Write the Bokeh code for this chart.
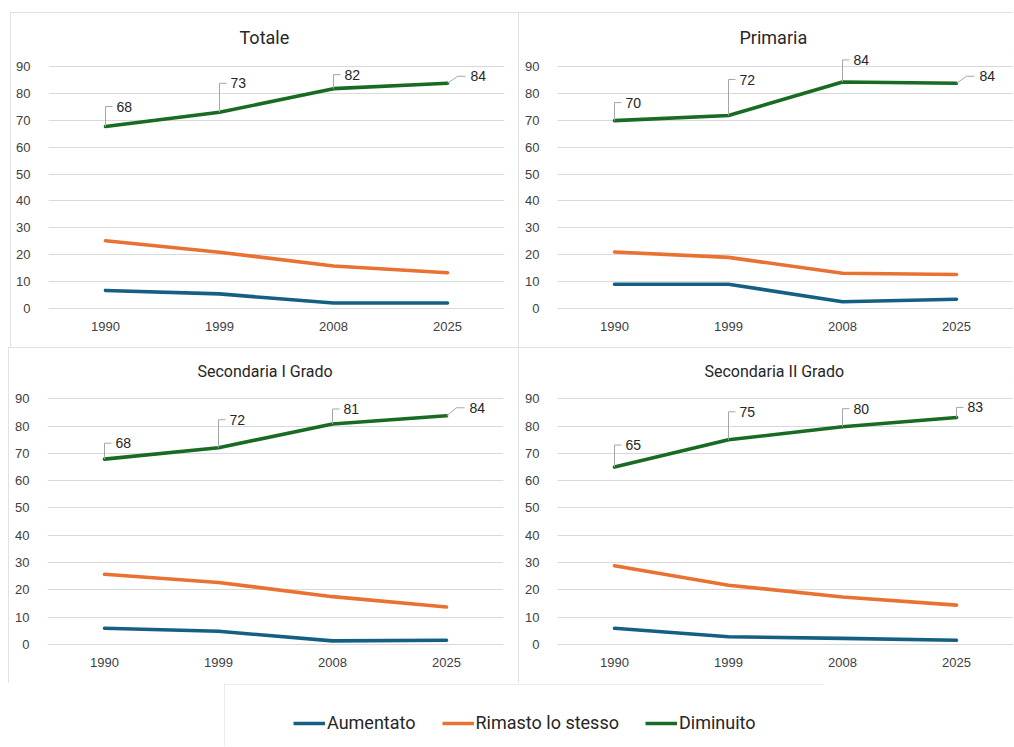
from bokeh.plotting import figure
from bokeh.models import Range1d, FixedTicker, ColumnDataSource, Legend, LegendItem, Spacer
from bokeh.layouts import column, row
from bokeh.core.properties import value
from bokeh.embed import file_html
from bokeh.resources import INLINE

# ---------------- data ----------------
years = ["1990", "1999", "2008", "2025"]
series = ["Aumentato", "Rimasto lo stesso", "Diminuito"]
panels = ["Totale", "Primaria", "Secondaria I Grado", "Secondaria II Grado"]
y_ticks = [0, 10, 20, 30, 40, 50, 60, 70, 80, 90]

totale_aumentato = [6.7, 5.4, 2.0, 2.0]
totale_rimasto = [25.2, 20.9, 15.8, 13.3]
totale_diminuito = [67.7, 73.0, 81.8, 83.8]

primaria_aumentato = [9.0, 9.0, 2.5, 3.4]
primaria_rimasto = [21.0, 19.0, 13.1, 12.6]
primaria_diminuito = [69.9, 71.8, 84.3, 83.8]

sec1_aumentato = [5.9, 4.8, 1.3, 1.5]
sec1_rimasto = [25.7, 22.7, 17.5, 13.7]
sec1_diminuito = [67.9, 72.1, 80.8, 83.8]

sec2_aumentato = [5.9, 2.8, 2.2, 1.5]
sec2_rimasto = [28.8, 21.7, 17.4, 14.4]
sec2_diminuito = [65.0, 75.0, 79.8, 83.2]

panel_data = {
    "Totale": [totale_aumentato, totale_rimasto, totale_diminuito],
    "Primaria": [primaria_aumentato, primaria_rimasto, primaria_diminuito],
    "Secondaria I Grado": [sec1_aumentato, sec1_rimasto, sec1_diminuito],
    "Secondaria II Grado": [sec2_aumentato, sec2_rimasto, sec2_diminuito],
}

# ---------------- style ----------------
colors = ["#156082", "#E97132", "#196B24"]
BAND = 114.0
Y0, Y1 = -0.4, 96.0
FONT_NUM = "Liberation Sans"
FONT_TXT = "Roboto"
LW = 3.6

# canvas size, min borders, title size / left offset from frame / standoff
geom = {
    "Totale": dict(w=508, h=335, ml=38, mr=14, mt=38, mb=38, tsize="18px", toff=191, tst=6),
    "Primaria": dict(w=495, h=335, ml=39, mr=0, mt=38, mb=38, tsize="18px", toff=182, tst=6),
    "Secondaria I Grado": dict(w=510, h=336, ml=39, mr=15, mt=35, mb=38, tsize="16px", toff=150, tst=4),
    "Secondaria II Grado": dict(w=495, h=336, ml=39, mr=0, mt=35, mb=38, tsize="16px", toff=147, tst=4),
}
# leader line heights (px) for data labels of the last series; "d" = diagonal leader
leaders = {
    "Totale": [20, 29, 14, "d7"],
    "Primaria": [18, 36, 22, "d7"],
    "Secondaria I Grado": [16, 28, 15, "d8"],
    "Secondaria II Grado": [22, 28, 18, 10],
}
border_style = {"outline": "1px solid #d9d9d9", "outline-offset": "-1px"}


def make_panel(name):
    g = geom[name]
    fw = g["w"] - g["ml"] - g["mr"]
    fh = g["h"] - g["mt"] - g["mb"]
    x_end = 0.5 + fw / BAND
    p = figure(width=g["w"], height=g["h"], x_range=Range1d(0.5, x_end),
               y_range=Range1d(Y0, Y1), output_backend="svg", toolbar_location=None,
               min_border_left=g["ml"], min_border_right=g["mr"],
               min_border_top=g["mt"], min_border_bottom=g["mb"],
               styles=border_style)
    p.outline_line_color = None
    p.background_fill_color = "white"
    p.border_fill_color = "white"

    xs = [i + 1 for i in range(len(years))]
    for vals, c in zip(panel_data[name], colors):
        src = ColumnDataSource(data=dict(x=xs, y=vals))
        p.line("x", "y", source=src, line_color=c, line_width=LW,
               line_join="round", line_cap="round")

    # data labels with leader lines on the "Diminuito" series
    ux = 1.0 / BAND
    uy = (Y1 - Y0) / fh
    vals = panel_data[name][2]
    lxs, lys, tx, ty, tt = [], [], [], [], []
    for x, v, ld in zip(xs, vals, leaders[name]):
        if isinstance(ld, str):
            dy = float(ld[1:])
            lxs.append([x, x + 10 * ux, x + 18 * ux])
            lys.append([v, v + dy * uy, v + dy * uy])
            tx.append(x + 23 * ux)
            ty.append(v + dy * uy)
        else:
            lxs.append([x, x, x + 7 * ux])
            lys.append([v, v + ld * uy, v + ld * uy])
            tx.append(x + 11 * ux)
            ty.append(v + ld * uy)
        tt.append(str(int(round(v))))
    p.multi_line(xs=lxs, ys=lys, line_color="#a6a6a6", line_width=1)
    p.text(x=tx, y=ty, text=tt, text_font=value(FONT_NUM), text_font_size="14px",
           text_baseline="middle", text_align="left", text_color="#262626")

    p.title.text = name
    p.title.align = "left"
    p.title.offset = g["toff"]
    p.title.standoff = g["tst"]
    p.title.text_font = FONT_TXT
    p.title.text_font_size = g["tsize"]
    p.title.text_font_style = "normal"
    p.title.text_color = "#262626"

    p.xaxis.ticker = FixedTicker(ticks=xs)
    p.xaxis.major_label_overrides = {x: yr for x, yr in zip(xs, years)}
    p.yaxis.ticker = FixedTicker(ticks=y_ticks)
    for ax in (p.xaxis, p.yaxis):
        ax.axis_line_color = None
        ax.major_tick_line_color = None
        ax.minor_tick_line_color = None
        ax.major_label_text_font = FONT_NUM
        ax.major_label_text_font_size = "13px"
        ax.major_label_text_color = "#404040"
    p.xaxis.major_label_standoff = 6
    p.yaxis.major_label_standoff = 12
    p.xgrid.visible = False
    p.ygrid.grid_line_color = "#d9d9d9"
    p.ygrid.grid_line_width = 1
    return p


figs = [make_panel(n) for n in panels]

# ---------------- legend ----------------
LEG_H = 62
leg = figure(width=600, height=LEG_H, x_range=Range1d(0, 1), y_range=Range1d(0, 1),
             output_backend="svg", toolbar_location=None,
             min_border_left=0, min_border_right=0, min_border_top=0, min_border_bottom=0,
             styles=border_style)
leg.axis.visible = False
leg.grid.visible = False
leg.outline_line_color = None
leg.background_fill_color = "white"
leg.border_fill_color = "white"
items = []
for s, c in zip(series, colors):
    r = leg.line(x=[-5, -4], y=[-5, -4], line_color=c, line_width=LW)
    items.append(LegendItem(label=s, renderers=[r]))
legend = Legend(items=items, orientation="horizontal", location=(69, LEG_H - 39 - 10),
                glyph_width=32, glyph_height=20, label_height=20, label_standoff=2,
                spacing=26, padding=0, margin=0, border_line_color=None,
                background_fill_alpha=0, label_text_font=FONT_TXT,
                label_text_font_size="18px", label_text_color="#262626")
leg.add_layout(legend, "center")

layout = column(
    Spacer(width=10, height=12),
    row(Spacer(width=10, height=335), figs[0], figs[1]),
    row(Spacer(width=8, height=336), figs[2], figs[3]),
    Spacer(width=10, height=1),
    row(Spacer(width=224, height=LEG_H), leg),
)

open("out.html", "w").write(file_html(layout, INLINE))
